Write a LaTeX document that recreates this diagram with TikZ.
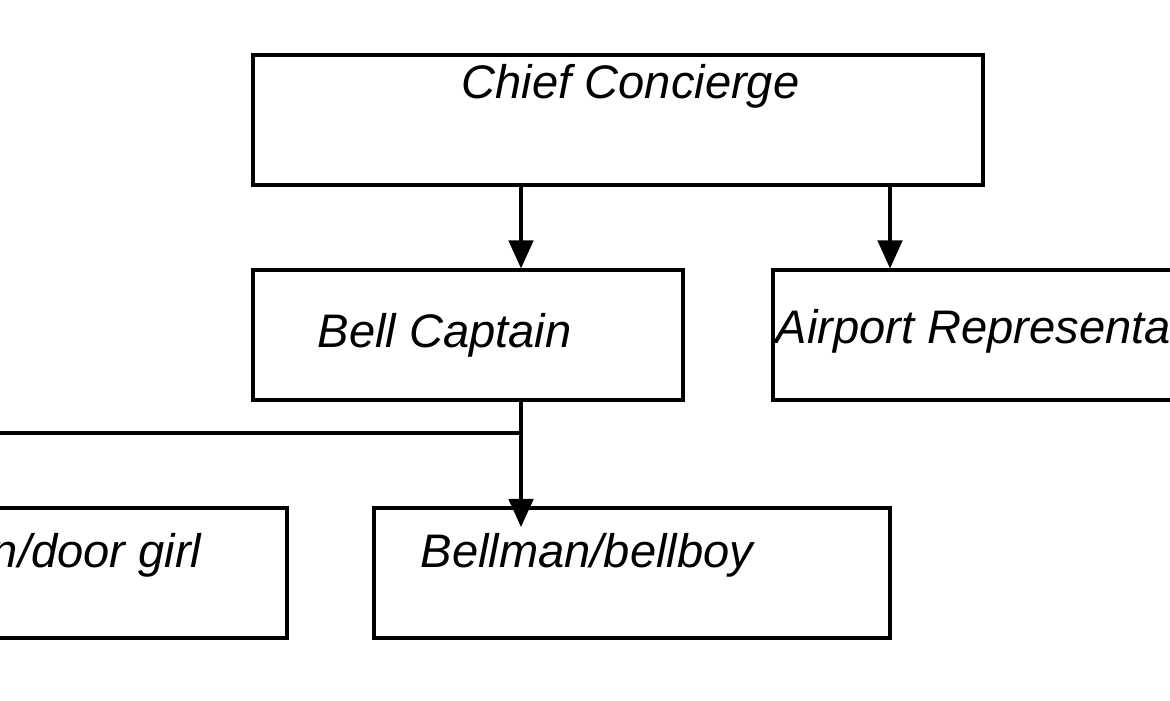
\documentclass[tikz,border=0pt]{standalone}
\usepackage{fontspec}
\setmainfont{Liberation Sans}
\usetikzlibrary{arrows.meta}

\begin{document}
\begin{tikzpicture}[
  post/.style={draw, line width=0.9pt, inner sep=0pt, minimum height=1.30cm},
  lbl/.style={inner sep=0pt, anchor=base west, font=\fontsize{13.4}{16}\selectfont\itshape},
  link/.style={line width=0.9pt},
  down/.style={link, -{Triangle[width=7pt,length=8pt]}}
]
\useasboundingbox (0,0) rectangle (11.7,-7);
\clip (0,0) rectangle (11.7,-7);
% boxes
\node[post, minimum width=7.30cm] (chief) at (6.18,-1.20) {};
\node[post, minimum width=4.30cm] (bell) at (4.68,-3.35) {};
\node[post, minimum width=4.30cm] (airport) at (9.88,-3.35) {};
\node[post, minimum width=5.16cm] (door) at (0.29,-5.73) {};
\node[post, minimum width=5.16cm] (bellman) at (6.32,-5.73) {};
% labels
\node[lbl] (chieftxt) at (4.61,-0.98) {Chief Concierge};
\node[lbl] (belltxt) at (3.17,-3.47) {Bell Captain};
\node[lbl] (airporttxt) at (7.75,-3.43) {Airport Representative};
\node[lbl, anchor=base east] (doortxt) at (2.02,-5.67) {Doorman/door girl};
\node[lbl] (bellmantxt) at (4.20,-5.67) {Bellman/bellboy};
% lines
\coordinate (split) at (5.21,-4.33);
\coordinate (atap) at (8.90,0);
\coordinate (dleft) at (-0.60,-4.33);
\draw[down] (chief.south -| split) -- (bell.north -| split);
\draw[down] (chief.south -| atap) -- (airport.north -| atap);
\draw[link] (bell.south -| split) -- (split);
\draw[down] (split) -- ++(0,-0.94);
\draw[link] (split) -- (dleft);
\draw[down] (dleft) -- (dleft |- door.north);
\end{tikzpicture}
\end{document}
